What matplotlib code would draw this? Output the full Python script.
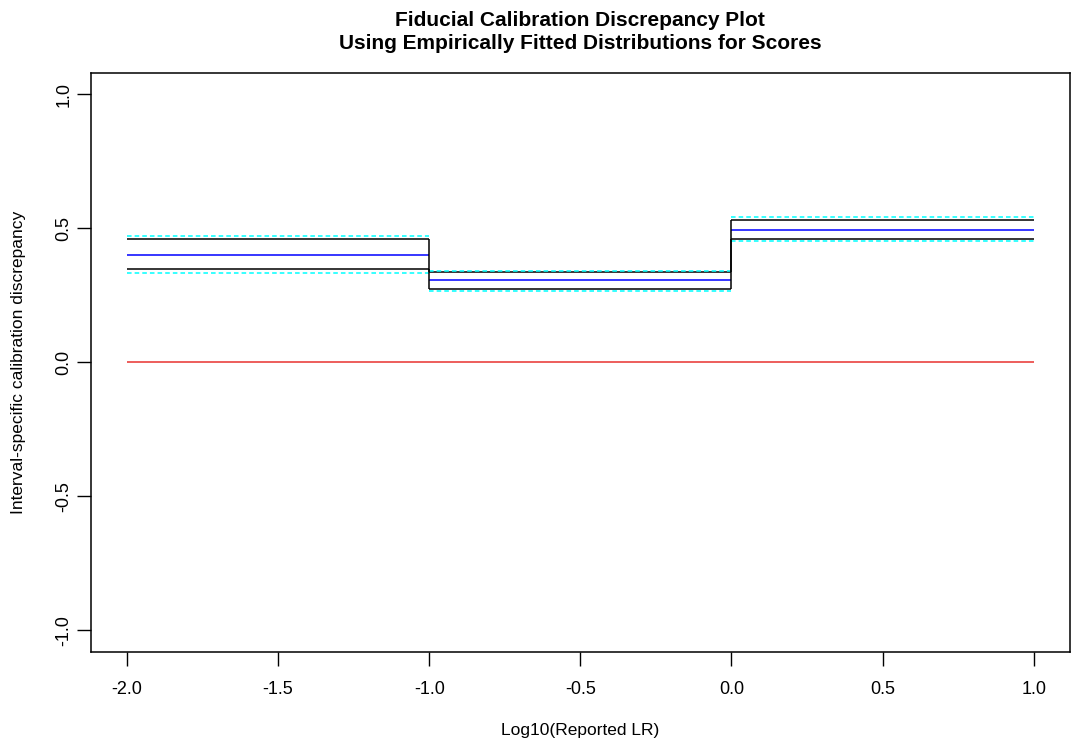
import matplotlib
matplotlib.use("Agg")
import matplotlib.pyplot as plt

plt.rcParams['font.family'] = ['Liberation Sans', 'DejaVu Sans']

# interval edges on log10(LR) scale
edges = [-2.0, -1.0, 0.0, 1.0]

# estimated discrepancy per interval
centre = [0.401, 0.305, 0.494]
black_upper = [0.461, 0.335, 0.529]
black_lower = [0.347, 0.272, 0.461]
cyan_upper = [0.469, 0.342, 0.542]
cyan_lower = [0.332, 0.267, 0.451]

xticks = [-2.0, -1.5, -1.0, -0.5, 0.0, 0.5, 1.0]
yticks = [-1.0, -0.5, 0.0, 0.5, 1.0]

fig = plt.figure(figsize=(10.74, 7.44), dpi=100)
ax = fig.add_axes([90.7 / 1074, 1 - 651.7 / 744, (1070 - 90.7) / 1074, (651.7 - 72.7) / 744])

lw = 1.1
n = len(centre)
for i in range(n):
    ax.hlines([black_upper[i], black_lower[i]], edges[i], edges[i + 1], color='black', lw=lw)
    ax.hlines(centre[i], edges[i], edges[i + 1], color='blue', lw=lw)
    ax.hlines([cyan_upper[i], cyan_lower[i]], edges[i], edges[i + 1],
              color='cyan', lw=lw, linestyles=(0, (3, 2)))
# black steps between intervals
for i in range(1, n):
    for vals in (black_upper, black_lower):
        ax.vlines(edges[i], min(vals[i - 1], vals[i]), max(vals[i - 1], vals[i]),
                  color='black', lw=lw)

ax.hlines(0.0, edges[0], edges[-1], color='#e8312f', lw=lw)

ax.set_xlim(-2.12, 1.12)
ax.set_ylim(-1.08, 1.08)
ax.set_xticks(xticks)
ax.set_xticklabels([f"{t:.1f}" for t in xticks])
ax.set_yticks(yticks)
ax.set_yticklabels([f"{t:.1f}" for t in yticks], rotation=90, va='center')
ax.tick_params(length=10, width=1, labelsize=13, colors='black')
ax.tick_params(axis='x', pad=11)
ax.tick_params(axis='y', pad=3)
for s in ax.spines.values():
    s.set_linewidth(1.1)

ax.set_xlabel("Log10(Reported LR)", fontsize=12.5, labelpad=18)
ax.set_ylabel("Interval-specific calibration discrepancy", fontsize=12.5, labelpad=21)
ax.set_title("Fiducial Calibration Discrepancy Plot\nUsing Empirically Fitted Distributions for Scores",
             fontsize=15, fontweight='bold', pad=17, linespacing=1.3)

fig.savefig("out.png", dpi=100)
